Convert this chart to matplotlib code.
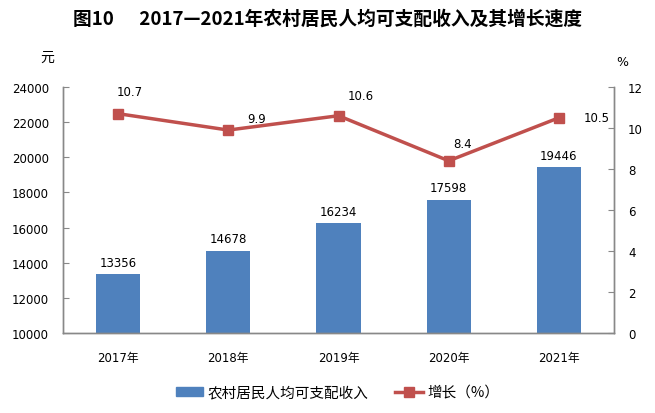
import numpy as np
import matplotlib.pyplot as plt
from matplotlib.lines import Line2D
from matplotlib.patches import Patch

plt.rcParams['font.family'] = ['DejaVu Sans', 'Noto Sans CJK SC']

# 数据
years = ['2017年', '2018年', '2019年', '2020年', '2021年']
income = [13356, 14678, 16234, 17598, 19446]
growth = [10.7, 9.9, 10.6, 8.4, 10.5]
# 增长率标签偏移 (像素)
growth_offsets = [(12, 22), (28, 12), (22, 20), (14, 17), (38, 0)]

bar_color = '#4F81BD'
line_color = '#C0504D'
axis_color = '#888888'

fig = plt.figure(figsize=(6.55, 4.14), dpi=100)
ax = fig.add_axes([0.0962, 0.1932, 0.8412, 0.5942])
ax2 = ax.twinx()

x = np.arange(len(years))
ax.bar(x, income, width=0.4, color=bar_color, zorder=2)
ax.set_ylim(10000, 24000)
ax.set_xlim(-0.5, len(years) - 0.5)
ax.set_yticks(np.arange(10000, 24001, 2000))
ax.set_xticks(x)
ax.set_xticklabels(years, fontsize=8.5)
ax.tick_params(axis='x', length=0, pad=13)
ax.tick_params(axis='y', direction='in', length=4, color=axis_color, labelsize=8.5, pad=10)

for xi, v in zip(x, income):
    ax.annotate(str(v), (xi, v), xytext=(0, 12), textcoords='offset pixels',
                ha='center', va='center', fontsize=8.5)

ax2.plot(x, growth, color=line_color, lw=2.5, marker='s', markersize=7, zorder=3)
ax2.set_ylim(0, 12)
ax2.set_yticks(np.arange(0, 13, 2))
ax2.tick_params(axis='y', direction='in', length=4, color=axis_color, labelsize=8.5, pad=10)
for xi, v, (dx, dy) in zip(x, growth, growth_offsets):
    ax2.annotate(str(v), (xi, v), xytext=(dx, dy), textcoords='offset pixels',
                 ha='center', va='center', fontsize=8.5)

for a in (ax, ax2):
    a.spines['top'].set_visible(False)
    for s in ('left', 'right', 'bottom'):
        a.spines[s].set_color(axis_color)
        a.spines[s].set_linewidth(1)

fig.text(0.5, 0.955, '图10      2017—2021年农村居民人均可支配收入及其增长速度',
         ha='center', va='center', fontsize=13.5, fontweight='bold',
         family=['Noto Sans CJK SC', 'DejaVu Sans'])
fig.text(0.072, 0.86, '元', ha='center', va='center', fontsize=10,
         family=['Noto Sans CJK SC'])
fig.text(0.95, 0.85, '%', ha='center', va='center', fontsize=9)

handles = [Patch(color=bar_color),
           Line2D([0], [0], color=line_color, lw=2.5, marker='s', markersize=7)]
labels = ['农村居民人均可支配收入', '增长（%）']
fig.legend(handles, labels, loc='center', bbox_to_anchor=(0.515, 0.05), ncol=2,
           frameon=False, prop={'family': ['Noto Sans CJK SC', 'DejaVu Sans'], 'size': 10.5},
           handlelength=1.9, handleheight=0.55, columnspacing=1.8, handletextpad=0.3)

fig.savefig('out.png', dpi=100)
